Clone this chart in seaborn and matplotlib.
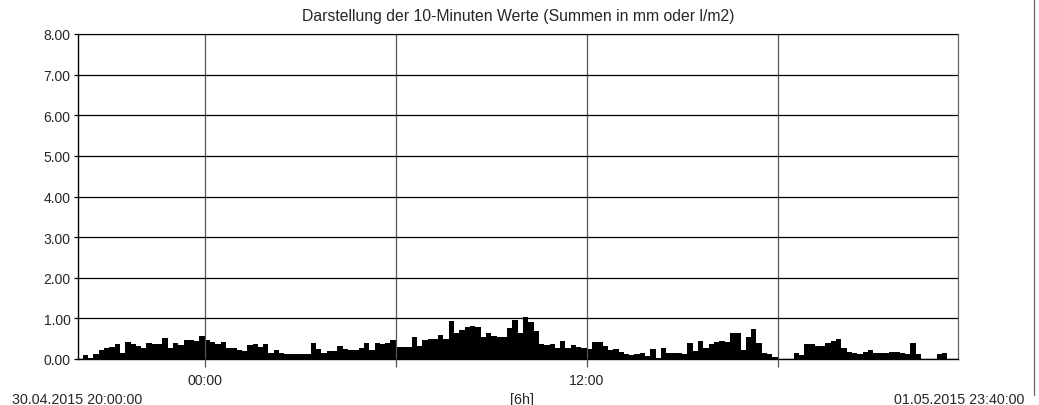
import matplotlib
matplotlib.use("Agg")
import matplotlib.pyplot as plt
from matplotlib.lines import Line2D
import numpy as np
import pandas as pd
import seaborn as sns

# 10-Minuten Werte (mm), 30.04.2015 20:00 bis 01.05.2015 23:40
start = "2015-04-30 20:00"
werte = [
    0.00, 0.10, 0.03, 0.12, 0.21, 0.28, 0.30, 0.37, 0.16, 0.43,
    0.37, 0.33, 0.28, 0.39, 0.37, 0.38, 0.52, 0.28, 0.39, 0.35,
    0.46, 0.48, 0.45, 0.57, 0.48, 0.42, 0.37, 0.43, 0.27, 0.26,
    0.21, 0.20, 0.35, 0.38, 0.29, 0.37, 0.14, 0.21, 0.15, 0.13,
    0.13, 0.13, 0.13, 0.13, 0.39, 0.25, 0.16, 0.19, 0.19, 0.32,
    0.25, 0.22, 0.22, 0.28, 0.40, 0.21, 0.40, 0.36, 0.39, 0.47,
    0.30, 0.30, 0.30, 0.53, 0.33, 0.46, 0.50, 0.50, 0.59, 0.50,
    0.93, 0.64, 0.72, 0.79, 0.82, 0.78, 0.53, 0.63, 0.56, 0.54,
    0.53, 0.77, 0.96, 0.64, 1.03, 0.91, 0.69, 0.38, 0.35, 0.38,
    0.26, 0.44, 0.26, 0.35, 0.29, 0.26, 0.24, 0.43, 0.43, 0.31,
    0.22, 0.25, 0.17, 0.12, 0.11, 0.12, 0.15, 0.07, 0.25, 0.02,
    0.26, 0.14, 0.16, 0.16, 0.13, 0.39, 0.20, 0.45, 0.28, 0.36,
    0.42, 0.45, 0.43, 0.65, 0.65, 0.21, 0.53, 0.74, 0.40, 0.16,
    0.12, 0.06, 0.00, 0.00, 0.00, 0.16, 0.10, 0.37, 0.37, 0.33,
    0.33, 0.39, 0.44, 0.50, 0.28, 0.17, 0.16, 0.13, 0.18, 0.22,
    0.16, 0.14, 0.14, 0.17, 0.17, 0.16, 0.12, 0.39, 0.12, 0.00,
    0.00, 0.00, 0.12, 0.16, 0.00, 0.00,
]
y_ticks = [0, 1, 2, 3, 4, 5, 6, 7, 8]
x_marken = ["00:00", "06:00", "12:00", "18:00"]
x_beschriftung = ["00:00", "", "12:00", ""]

zeiten = pd.date_range(start, periods=len(werte), freq="10min")
t0 = zeiten[0]
stunden = (zeiten - t0) / pd.Timedelta(hours=1)
df = pd.DataFrame({"t": stunden + 1 / 12, "wert": werte})

sns.set_style("white")
plt.rcParams["font.family"] = ["Liberation Sans", "DejaVu Sans"]

fig = plt.figure(figsize=(10.39, 4.06), dpi=100)
fig.subplots_adjust(left=77.5 / 1039, right=958 / 1039, top=1 - 35 / 406, bottom=1 - 360 / 406)
ax = fig.add_subplot(111)

sns.barplot(data=df, x="t", y="wert", native_scale=True, color="black",
            saturation=1, width=1.0, edgecolor="none", linewidth=0, ax=ax)

# Achsen
ax.set_xlim(0, len(werte) / 6)
ax.set_ylim(0, 8)
ax.set_yticks(y_ticks)
ax.set_yticklabels([f"{v:.2f}" for v in y_ticks], fontsize=10)

grid_pos = []
for m in x_marken:
    h, mi = map(int, m.split(":"))
    t = t0.normalize() + pd.Timedelta(days=1, hours=h, minutes=mi)
    grid_pos.append((t - t0) / pd.Timedelta(hours=1))
ax.set_xticks(grid_pos)
ax.set_xticklabels(x_beschriftung, fontsize=10.2)
ax.set_xlabel("")
ax.set_ylabel("")

ax.set_axisbelow(False)
ax.yaxis.grid(True, color="black", linewidth=0.9)
ax.xaxis.grid(True, color="#555555", linewidth=0.9)
ax.tick_params(axis="x", direction="out", length=6, width=0.9, color="#555555", pad=4, bottom=True)
ax.tick_params(axis="y", direction="out", length=3, width=0.9, color="black", pad=2, left=True)

for s in ["left", "bottom"]:
    ax.spines[s].set_color("black")
    ax.spines[s].set_linewidth(1.0)
for s in ["top", "right"]:
    ax.spines[s].set_color("#666666")
    ax.spines[s].set_linewidth(0.9)

# Titel und Beschriftungen
fig.text(517.7 / 1039, 1 - 17 / 406, "Darstellung der 10-Minuten Werte (Summen in mm oder l/m2)",
         ha="center", va="center", fontsize=11.3)
fig.text(12 / 1039, 1 - 400 / 406, "30.04.2015 20:00:00", ha="left", va="center", fontsize=10.3)
fig.text(1024 / 1039, 1 - 400 / 406, "01.05.2015 23:40:00", ha="right", va="center", fontsize=10.3)
fig.text(522 / 1039, 1 - 400 / 406, "[6h]", ha="center", va="center", fontsize=10.3)

fig.add_artist(Line2D([1034 / 1039, 1034 / 1039], [1 - 396 / 406, 1.0],
                      transform=fig.transFigure, color="#666666", linewidth=0.9))

fig.savefig("out.png", dpi=100)
